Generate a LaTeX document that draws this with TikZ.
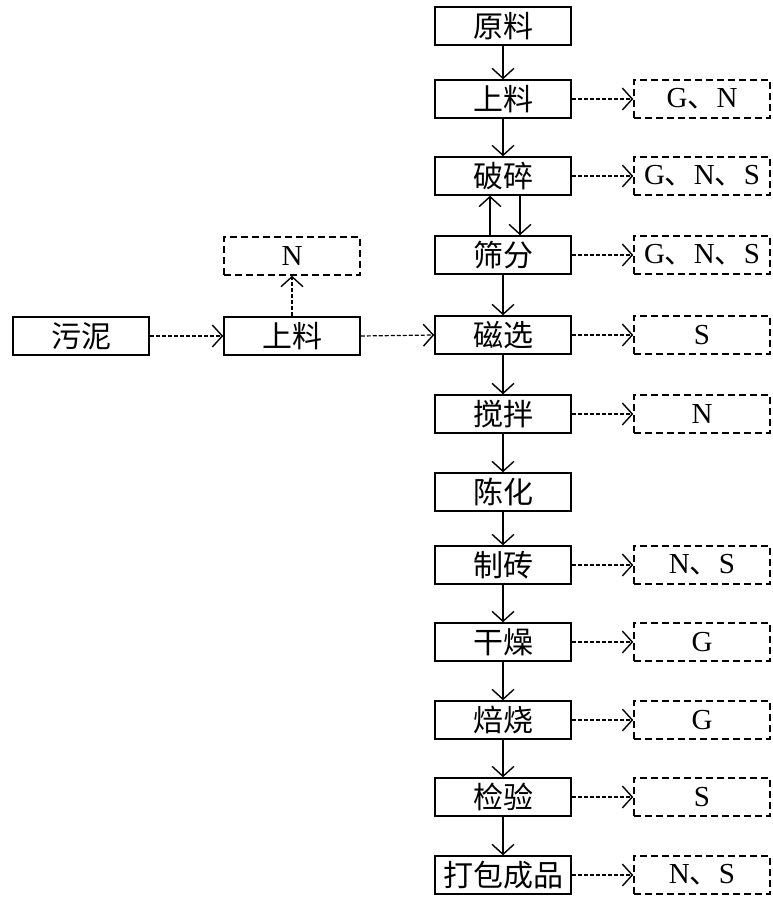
\documentclass[tikz,border=0pt]{standalone}
\usepackage{fontspec}
\setmainfont{Liberation Serif}
\newfontfamily\cjk{Noto Sans CJK SC}
\usepackage{tikz}
\usetikzlibrary{arrows.meta,positioning}
\newcommand{\dun}{{\cjk 、}}
\tikzstyle{procbox} = [draw, line width=1.5pt, minimum width=136pt, minimum height=38pt, inner sep=0pt, font=\cjk\fontsize{30}{32}\selectfont]
\tikzstyle{wastebox} = [draw, dash pattern=on 7pt off 4pt, line width=1.5pt, minimum width=136pt, minimum height=38pt, inner sep=0pt, font=\fontsize{29}{31}\selectfont]
\tikzstyle{flow} = [-{Straight Barb[length=10pt,width=22pt,line width=1.4pt]}, line width=1.2pt]
\tikzstyle{wasteflow} = [flow, dash pattern=on 4pt off 2pt]

\begin{document}
\begin{tikzpicture}[x=1pt,y=-1pt]
\useasboundingbox (0,0) rectangle (772,897);

\foreach \y/\id/\name in {26/yl/原料,99/sl/上料,176/ps/破碎,255/sf/筛分,335/cx/磁选,414/jb/搅拌,492/ch/陈化,565/zz/制砖,642/gz/干燥,720/bs/焙烧,797/jy/检验,875/db/打包成品}{
  \node[procbox] (\id) at (503,\y) {\name};
}

\foreach \y/\id/\txt in {99/wsl/{G\dun N},176/wps/{G\dun N\dun S},255/wsf/{G\dun N\dun S},335/wcx/S,414/wjb/N,565/wzz/{N\dun S},642/wgz/G,720/wbs/G,797/wjy/S,875/wdb/{N\dun S}}{
  \node[wastebox] (\id) at (702,\y) {\txt};
}

\node[procbox] (wn) at (81,336) {污泥};
\node[procbox] (lsl) at (292,336) {上料};
\node[wastebox] (wlsl) at (292,256) {N};

\foreach \a/\b in {yl/sl,sl/ps,sf/cx,cx/jb,jb/ch,ch/zz,zz/gz,gz/bs,bs/jy,jy/db}{
  \draw[flow] (\a.south) -- (\b.north);
}
\draw[flow] ([xshift=-13pt]sf.north) -- ([xshift=-13pt]ps.south);
\draw[flow] ([xshift=17pt]ps.south) -- ([xshift=17pt]sf.north);

\foreach \a/\b in {sl/wsl,ps/wps,sf/wsf,cx/wcx,jb/wjb,zz/wzz,gz/wgz,bs/wbs,jy/wjy,db/wdb}{
  \draw[wasteflow] (\a.east) -- (\b.west);
}
\draw[wasteflow] (wn.east) -- (lsl.west);
\draw[wasteflow] (lsl.east) -- (cx.west);
\draw[wasteflow] (lsl.north) -- (wlsl.south);
\end{tikzpicture}
\end{document}
